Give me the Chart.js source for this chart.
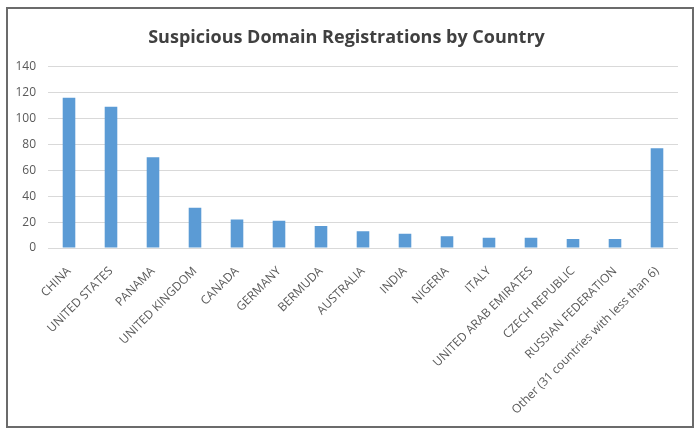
<!DOCTYPE html>
<html>
<head>
<meta charset="utf-8">
<script src="https://cdn.jsdelivr.net/npm/chart.js@4"></script>
<style>
  html, body { margin: 0; padding: 0; background: #fff; }
  #frame {
    position: absolute; left: 6px; top: 7px;
    width: 684px; height: 417px;
    border: 2px solid #6b6b6b;
    background: #fff;
  }
  #wrap { position: absolute; left: 0; top: 0; width: 684px; height: 417px; }
</style>
</head>
<body>
<div id="frame"><div id="wrap"><canvas id="chart"></canvas></div></div>
<script>
// Datos
const paises = [
    'CHINA', 'UNITED STATES', 'PANAMA', 'UNITED KINGDOM', 'CANADA', 'GERMANY',
    'BERMUDA', 'AUSTRALIA', 'INDIA', 'NIGERIA', 'ITALY', 'UNITED ARAB EMIRATES',
    'CZECH REPUBLIC', 'RUSSIAN FEDERATION', 'Other (31 countries with less than 6)'
];
const registros = [116, 109, 70, 31, 22, 21, 17, 13, 11, 9, 8, 8, 7, 7, 77];
const ticksY = [0, 20, 40, 60, 80, 100, 120, 140];

const colorTexto = '#595959';
const fuente = "'Open Sans', 'Liberation Sans', sans-serif";

const ctx = document.getElementById('chart').getContext('2d');
new Chart(ctx, {
    type: 'bar',
    data: {
        labels: paises,
        datasets: [{
            label: 'Registrations',
            data: registros,
            backgroundColor: '#5b9bd5',
            categoryPercentage: 1,
            barPercentage: 0.3
        }]
    },
    options: {
        responsive: true,
        maintainAspectRatio: false,
        animation: false,
        layout: { padding: { left: 7, right: 14, top: 8, bottom: 4 } },
        plugins: {
            legend: { display: false },
            tooltip: { enabled: false },
            title: {
                display: true,
                text: 'Suspicious Domain Registrations by Country',
                color: '#404040',
                font: { family: fuente, size: 18, weight: 'bold' },
                padding: { top: 10, bottom: 18 }
            }
        },
        scales: {
            x: {
                grid: { display: false },
                border: { display: false },
                ticks: {
                    color: colorTexto,
                    font: { family: fuente, size: 12 },
                    minRotation: 45,
                    maxRotation: 45,
                    autoSkip: false,
                    padding: 8
                },
                // alto fijo del eje para que el área del gráfico quede como en el original
                afterFit: scale => {
                    scale.paddingLeft = 0;
                    scale.height = 174;
                }
            },
            y: {
                min: 0,
                max: 140,
                afterBuildTicks: axis => { axis.ticks = ticksY.map(v => ({ value: v })); },
                afterFit: scale => { scale.width = 33; },
                grid: { color: '#d9d9d9', lineWidth: 1, drawTicks: false },
                border: { display: false },
                ticks: {
                    color: colorTexto,
                    font: { family: fuente, size: 12 },
                    padding: 12
                }
            }
        }
    }
});
</script>
</body>
</html>
